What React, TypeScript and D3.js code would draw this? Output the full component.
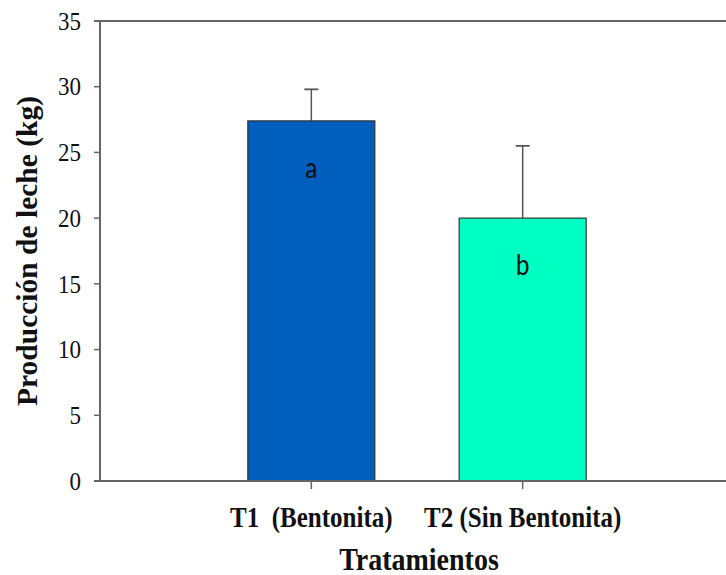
import { useEffect } from "react"
import * as d3 from "d3"

// Datos del gráfico
const tratamientos = ["T1  (Bentonita)", "T2 (Sin Bentonita)"]
const produccion = [27.4, 20.0]
const errores = [2.4, 5.5]
const letras = ["a", "b"]
const colores = ["#005EBD", "#00FFC2"]
const ticksY = [0, 5, 10, 15, 20, 25, 30, 35]

const left = 100
const top = 21
const bottom = 481
const right = 734
const barW = 127
const serif = "Liberation Serif"
const axisColor = "#666"

export default function App() {
  useEffect(() => {
    document.body.style.margin = "0"
  }, [])

  const yScale = d3.scaleLinear().domain([0, 35]).range([bottom, top])
  // posiciones: 0 (vacío), 1 T1, 2 T2, 3 (vacío)
  const xScale = d3.scaleLinear().domain([0, 3]).range([left, right])

  return (
    <svg width={726} height={575} style={{ display: "block", background: "#fff" }}>
      {/* borde superior */}
      <line x1={left - 6} x2={right} y1={top} y2={top} stroke={axisColor} strokeWidth={2} />

      {tratamientos.map((t, i) => {
        const cx = xScale(i + 1)
        const v = produccion[i]
        const yErr = yScale(v + errores[i])
        return (
          <g key={t}>
            <line x1={cx} x2={cx} y1={yScale(v)} y2={yErr} stroke="#555" strokeWidth={1.5} />
            <line x1={cx - 7} x2={cx + 7} y1={yErr} y2={yErr} stroke="#555" strokeWidth={1.8} />
            <rect
              x={cx - barW / 2}
              y={yScale(v)}
              width={barW}
              height={yScale(0) - yScale(v)}
              fill={colores[i]}
              stroke="#333"
              strokeWidth={1.2}
            />
            <text
              transform={`translate(${cx},${yScale(v) + 57}) scale(1,1.2)`}
              textAnchor="middle"
              fontFamily="Carlito"
              fontSize={26}
              fill="#111"
            >
              {letras[i]}
            </text>
            <line x1={cx} x2={cx} y1={bottom} y2={bottom + 8} stroke={axisColor} strokeWidth={1.5} />
            <text
              transform={`translate(${cx},527) scale(1,1.15)`}
              textAnchor="middle"
              fontFamily={serif}
              fontWeight="bold"
              fontSize={25}
              fill="#111"
              style={{ whiteSpace: "pre" }}
            >
              {t}
            </text>
          </g>
        )
      })}

      {/* eje Y */}
      <line x1={left} x2={left} y1={top} y2={bottom} stroke={axisColor} strokeWidth={2} />
      {ticksY.map((d) => (
        <g key={d} transform={`translate(${left},${yScale(d)})`}>
          <line x1={-6} x2={0} stroke={axisColor} strokeWidth={1.5} />
          <text
            transform="scale(1,1.12)"
            x={-19}
            dy="0.34em"
            textAnchor="end"
            fontFamily={serif}
            fontSize={23}
            fill="#111"
          >
            {d}
          </text>
        </g>
      ))}

      {/* eje X */}
      <line x1={left - 6} x2={right} y1={bottom} y2={bottom} stroke={axisColor} strokeWidth={2} />

      <text
        transform="translate(37,251) rotate(-90)"
        textAnchor="middle"
        fontFamily={serif}
        fontWeight="bold"
        fontSize={29.5}
        fill="#111"
      >
        Producción de leche (kg)
      </text>
      <text
        transform="translate(419,570) scale(1,1.1)"
        textAnchor="middle"
        fontFamily={serif}
        fontWeight="bold"
        fontSize={28}
        fill="#111"
      >
        Tratamientos
      </text>
    </svg>
  )
}
